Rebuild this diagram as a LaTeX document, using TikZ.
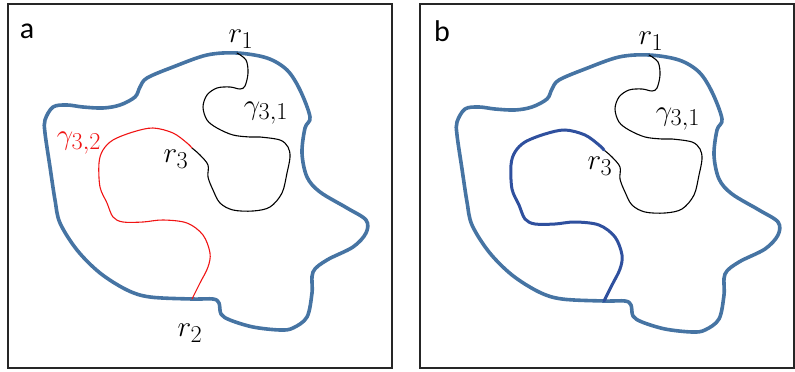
\documentclass[tikz,border=0pt]{standalone}
\usepackage{fontspec}
\newfontfamily\labelfont{Carlito}
\definecolor{outlineblue}{RGB}{70,116,163}
\definecolor{pathblue}{RGB}{47,80,158}
\definecolor{pathred}{RGB}{240,20,20}
\newcommand{\biglbl}[1]{\scalebox{1.17}{$#1$}}
\tikzset{
  frame/.style={draw=black!85, line width=1.4pt},
  outline/.style={draw=outlineblue, line width=3.6pt, line join=round},
  thinpath/.style={draw=black, line width=1.1pt, line cap=round},
  redpath/.style={draw=pathred, line width=1.1pt, line cap=round},
  bluepath/.style={draw=pathblue, line width=3pt, line cap=round},
  panellabel/.style={font=\labelfont\fontsize{30}{34}\selectfont, inner sep=0pt},
  mathlabel/.style={font=\fontsize{24.88}{30}\selectfont, inner sep=0pt},
}
\newcommand{\blueoutline}{plot[smooth cycle, tension=0.55] coordinates {(237,53) (267,58) (287,70) (300,90) (310,117) (305,128) (302,153) (307,177) (320,192) (347,208) (366,220) (366,233) (353,247) (327,260) (313,272) (312,293) (307,317) (293,328) (280,330) (253,327) (230,320) (221,314) (219,303) (213,299) (192,299) (150,297) (127,290) (100,273) (77,250) (60,223) (55,200) (50,167) (45,133) (45,120) (53,107) (67,105) (83,107) (103,108) (120,105) (135,97) (140,87) (147,78) (173,67) (207,55)}}
\newcommand{\blackloop}{plot[smooth, tension=0.55] coordinates {(237,53) (246,60) (248,73) (245,86) (240,89) (230,87) (217,88) (207,95) (203,107) (207,120) (217,128) (233,135) (250,137) (260,137) (280,140) (288,147) (290,157) (287,173) (282,193) (270,207) (253,211) (233,210) (220,203) (213,190) (208,177) (208,165) (200,155) (192,148)}}
\newcommand{\secondpath}{plot[smooth, tension=0.55] coordinates {(192,148) (187,143) (173,133) (153,128) (133,132) (113,140) (103,150) (99,163) (100,187) (107,203) (113,217) (123,222) (143,222) (163,220) (187,223) (203,235) (210,253) (208,267) (200,283) (192,299)}}
\begin{document}
\begin{tikzpicture}[x=1pt,y=-1pt]
\useasboundingbox (0,0) rectangle (795,372);
% panel a
\draw[frame] (8,4) rectangle (392,368);
\draw[outline] \blueoutline;
\draw[thinpath] \blackloop;
\draw[redpath] \secondpath;
\node[panellabel] (la) at (27,31) {a};
\node[mathlabel] (ar1) at (241,39) {\biglbl{r_1}};
\node[mathlabel] (ag31) at (266,113) {\biglbl{\gamma_{3,1}}};
\node[mathlabel, text=pathred] (ag32) at (79,143) {\biglbl{\gamma_{3,2}}};
\node[mathlabel] (ar3) at (176,159) {\biglbl{r_3}};
\node[mathlabel] (ar2) at (190,333) {\biglbl{r_2}};
% panel b
\draw[frame] (420,4) rectangle (794,368);
\begin{scope}[shift={(412,2)}]
\draw[outline] \blueoutline;
\draw[thinpath] \blackloop;
\draw[bluepath] \secondpath;
\end{scope}
\node[panellabel] (lb) at (442,31) {b};
\node[mathlabel] (br1) at (651,41) {\biglbl{r_1}};
\node[mathlabel] (bg31) at (678,119) {\biglbl{\gamma_{3,1}}};
\node[mathlabel] (br3) at (600,166) {\biglbl{r_3}};
\end{tikzpicture}
\end{document}
